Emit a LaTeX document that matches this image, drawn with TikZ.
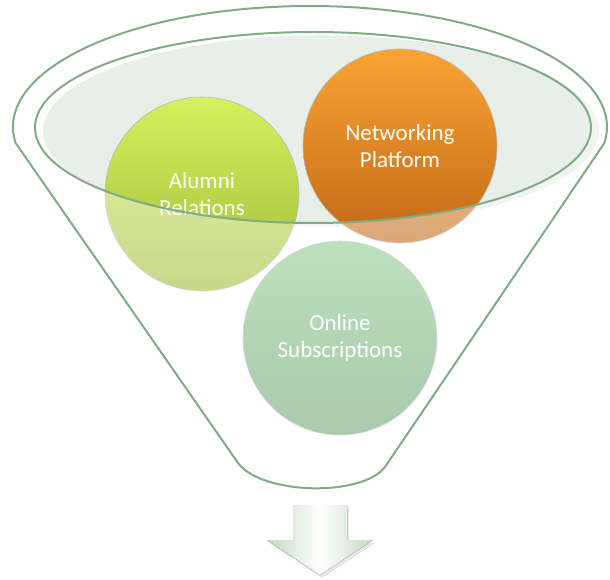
\documentclass[tikz,border=0pt]{standalone}
\usepackage{fontspec}
\setmainfont{Carlito}
\usepackage{xcolor}
\usepackage{tikz}
\usetikzlibrary{shadows}
\definecolor{funnelline}{HTML}{80AC84}
\definecolor{mouthfill}{HTML}{E8EEE8}
\tikzstyle{bubble} = [circle, minimum size=194pt, inner sep=0pt, draw=gray!55,
                      line width=0.6pt, text=white, align=center,
                      font=\fontsize{23}{27}\selectfont]
\tikzstyle{gbubble} = [bubble, top color={rgb,255:red,214;green,240;blue,94},
                       bottom color={rgb,255:red,158;green,188;blue,56}]
\tikzstyle{obubble} = [bubble, top color={rgb,255:red,250;green,164;blue,52},
                       bottom color={rgb,255:red,194;green,104;blue,22}]
\tikzstyle{sbubble} = [bubble, top color={rgb,255:red,142;green,202;blue,142},
                       bottom color={rgb,255:red,108;green,164;blue,110}]
\tikzstyle{rim}    = [draw=funnelline, line width=2pt]

\begin{document}
\begin{tikzpicture}[x=1pt, y=1pt]
  \useasboundingbox (0,0) rectangle (610,579);

  % Funnel mouth fill
  \fill[mouthfill] (321,448) ellipse [x radius=278, y radius=95.5];

  % Circles
  \node[gbubble] (alumni) at (202,385) {Alumni\\Relations};
  \node[obubble] (netw)   at (400,433) {Networking\\Platform};
  \node[sbubble] (online) at (340,241) {Online\\Subscriptions};

  % Front face of the funnel washes out what lies below the mouth
  \fill[white, opacity=0.42, even odd rule]
    (15.6,436) arc[start angle=187.6, end angle=-7.6, x radius=297, y radius=121]
    -- (385,112) .. controls (362,82) and (262,84) .. (238,116) -- cycle
    (313,451.5) ellipse [x radius=278, y radius=95.5];

  % Funnel outline
  \draw[rim, line join=round]
    (15.6,436) arc[start angle=187.6, end angle=-7.6, x radius=297, y radius=121]
    -- (385,112) .. controls (362,82) and (262,84) .. (238,116) -- cycle;
  \draw[rim] (313,451.5) ellipse [x radius=278, y radius=95.5];

  % Down arrow
  \fill[left color={rgb,255:red,196;green,218;blue,196}, right color={rgb,255:red,196;green,218;blue,196},
        middle color=white, drop shadow={opacity=0.2, shadow xshift=2pt, shadow yshift=-3pt}]
    (293,74) -- (347,74) -- (347,39) -- (373,39) -- (320,4) -- (267,39) -- (293,39) -- cycle;
\end{tikzpicture}
\end{document}
